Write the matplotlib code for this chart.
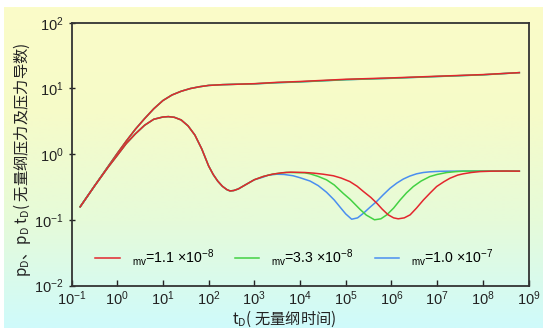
import numpy as np
import matplotlib
matplotlib.use("Agg")
import matplotlib.pyplot as plt
from matplotlib.colors import LinearSegmentedColormap
from matplotlib.ticker import LogLocator, NullLocator

plt.rcParams['font.family'] = ['Liberation Sans', 'DejaVu Sans']
plt.rcParams['mathtext.fontset'] = 'custom'
plt.rcParams['mathtext.rm'] = 'Liberation Sans'
plt.rcParams['mathtext.it'] = 'Liberation Sans'
plt.rcParams['mathtext.default'] = 'regular'

# dimensionless pressure (shared time points)
t_p = [0.155, 0.316, 0.631, 1.0, 1.58, 2.51, 3.98, 6.31, 10.0, 15.8, 25.1, 39.8,
       63.1, 100, 200, 398, 1000, 3160, 1.0e4, 1.0e5, 1.0e6, 1.0e7, 1.0e8, 6.3e8]
pd_red = [0.158, 0.324, 0.646, 1.02, 1.58, 2.40, 3.47, 4.90, 6.53, 7.94, 9.05, 9.95,
          10.6, 11.1, 11.4, 11.56, 11.8, 12.36, 12.74, 13.77, 14.45, 15.31, 16.22, 17.38]
pd_green = [0.158, 0.324, 0.646, 1.02, 1.58, 2.40, 3.47, 4.90, 6.53, 7.94, 9.05, 9.95,
            10.6, 11.1, 11.4, 11.56, 11.75, 12.25, 12.6, 13.6, 14.3, 15.2, 16.1, 17.38]
pd_blue = [0.158, 0.324, 0.646, 1.02, 1.58, 2.40, 3.47, 4.90, 6.53, 7.94, 9.05, 9.95,
           10.6, 11.1, 11.4, 11.56, 11.72, 12.2, 12.55, 13.55, 14.25, 15.15, 16.1, 17.38]

# pressure derivative, common early part
t_d0 = [0.155, 0.316, 0.631, 1.0, 1.58, 2.51, 3.98, 6.31, 10.0, 13.2, 17.8, 25.1,
        35.5, 50.1, 70.8, 100, 126, 158, 200, 251, 295, 355, 447, 631, 1000,
        1580, 2510]
dd0 = [0.158, 0.324, 0.631, 0.955, 1.45, 2.04, 2.75, 3.39, 3.67, 3.72, 3.63, 3.31,
       2.69, 1.95, 1.20, 0.661, 0.490, 0.389, 0.324, 0.288, 0.275, 0.279, 0.295,
       0.339, 0.407, 0.457, 0.495]

# late part for each storage value
t_red = [3980, 6310, 1.26e4, 2.0e4, 3.16e4, 5.37e4, 7.94e4, 1.23e5, 1.78e5, 2.45e5,
         3.55e5, 4.79e5, 6.31e5, 8.51e5, 1.12e6, 1.41e6, 1.91e6, 2.57e6, 3.55e6,
         5.01e6, 7.08e6, 9.77e6, 1.41e7, 1.91e7, 2.82e7, 3.72e7, 5.62e7, 8.71e7,
         1.58e8, 3.16e8, 6.3e8]
dd_red = [0.519, 0.531, 0.525, 0.513, 0.495, 0.468, 0.432, 0.382, 0.324, 0.269,
          0.219, 0.179, 0.145, 0.119, 0.107, 0.1035, 0.107, 0.119, 0.151, 0.200,
          0.257, 0.321, 0.380, 0.429, 0.479, 0.501, 0.525, 0.542, 0.550, 0.552, 0.550]
t_green = [5010, 1.26e4, 1.66e4, 2.51e4, 3.80e4, 5.62e4, 8.91e4, 1.26e5, 2.04e5,
           2.82e5, 4.27e5, 5.89e5, 7.94e5, 1.12e6, 1.55e6, 2.14e6, 3.02e6, 4.47e6,
           6.92e6, 1.0e7, 1.62e7, 2.51e7, 3.72e7, 6.31e7, 1.26e8, 3.16e8, 6.3e8]
dd_green = [0.527, 0.519, 0.501, 0.457, 0.406, 0.339, 0.251, 0.204, 0.145, 0.118,
            0.100, 0.1035, 0.119, 0.151, 0.200, 0.257, 0.321, 0.389, 0.455, 0.490,
            0.524, 0.540, 0.550, 0.552, 0.552, 0.552, 0.550]
t_blue = [1000, 1580, 2000, 3090, 4470, 7080, 1.0e4, 1.66e4, 2.51e4, 3.80e4, 5.62e4,
          7.59e4, 1.0e5, 1.35e5, 1.82e5, 2.45e5, 3.39e5, 4.79e5, 6.61e5, 9.33e5,
          1.32e6, 1.82e6, 2.51e6, 3.55e6, 5.01e6, 6.92e6, 1.12e7, 1.91e7, 3.98e7,
          1.0e8, 3.16e8, 6.3e8]
dd_blue = [0.398, 0.447, 0.477, 0.494, 0.490, 0.468, 0.437, 0.389, 0.331, 0.263,
           0.200, 0.155, 0.123, 0.102, 0.107, 0.126, 0.155, 0.191, 0.240, 0.302,
           0.363, 0.417, 0.462, 0.501, 0.525, 0.537, 0.547, 0.550, 0.552, 0.552,
           0.552, 0.550]

colors = {'red': '#e3262e', 'green': '#43d143', 'blue': '#4a8ef0'}
labels = {'red': r'$_{mv}$=1.1 ×10$^{-8}$',
          'green': r'$_{mv}$=3.3 ×10$^{-8}$',
          'blue': r'$_{mv}$=1.0 ×10$^{-7}$'}

fig = plt.figure(figsize=(5.43, 3.28), dpi=100)

# yellow-to-cyan backdrop
bg = fig.add_axes([4 / 543, 0, 539 / 543, 321 / 328])
grad_cmap = LinearSegmentedColormap.from_list(
    'bg', ['#fbfcc8', '#f6fbc9', '#e6fbd9', '#cffafb'], N=256)
bg.imshow(np.linspace(0, 1, 256).reshape(-1, 1), aspect='auto', cmap=grad_cmap)
bg.axis('off')

ax = fig.add_axes([71.5 / 543, 42.5 / 328, 457 / 543, 262.8 / 328])
ax.patch.set_alpha(0)

lw = 1.1
ax.plot(t_p, pd_blue, color=colors['blue'], lw=lw)
ax.plot(t_p, pd_green, color=colors['green'], lw=lw)
ax.plot(t_p, pd_red, color=colors['red'], lw=lw)

n0 = len(t_d0)
ax.plot(t_d0[:n0 - 2] + t_blue[1:], dd0[:n0 - 2] + dd_blue[1:],
        color=colors['blue'], lw=lw, label=labels['blue'])
ax.plot(t_d0 + t_green, dd0 + dd_green, color=colors['green'], lw=lw,
        label=labels['green'])
ax.plot(t_d0 + t_red, dd0 + dd_red, color=colors['red'], lw=lw,
        label=labels['red'])

ax.set_xscale('log')
ax.set_yscale('log')
ax.set_xlim(1e-1, 1e9)
ax.set_ylim(1e-2, 1e2)
ax.xaxis.set_major_locator(LogLocator(base=10, numticks=20))
ax.xaxis.set_minor_locator(NullLocator())
ax.yaxis.set_minor_locator(NullLocator())
ax.tick_params(axis='x', direction='in', length=4, width=1, pad=3,
               labelsize=10.5, colors='#222222')
ax.tick_params(axis='y', direction='inout', length=5, width=1, pad=3,
               labelsize=10.5, colors='#222222')
for s in ax.spines.values():
    s.set_linewidth(1.3)
    s.set_color('#333333')

cjk = ['Noto Sans CJK SC', 'DejaVu Sans']
ax.set_ylabel(r'p$_\mathregular{D}$、p$_\mathregular{D}$ t$_\mathregular{D}$( 无量纲压力及压力导数)',
              family=cjk, fontsize=11, color='#222222')
ax.yaxis.set_label_coords(-0.085, 0.48)
ax.set_xlabel(r't$_\mathregular{D}$( 无量纲时间)', family=cjk, fontsize=11,
              color='#222222')
ax.xaxis.set_label_coords(0.465, -0.088)

h, l = ax.get_legend_handles_labels()
order = [2, 1, 0]
ax.legend([h[i] for i in order], [l[i] for i in order], ncol=3, frameon=False,
          loc='center left', bbox_to_anchor=(0.04, 0.105), borderaxespad=0,
          fontsize=10.2, handlelength=1.7, handletextpad=0.85, columnspacing=1.5)

fig.savefig('out.png', dpi=100)
